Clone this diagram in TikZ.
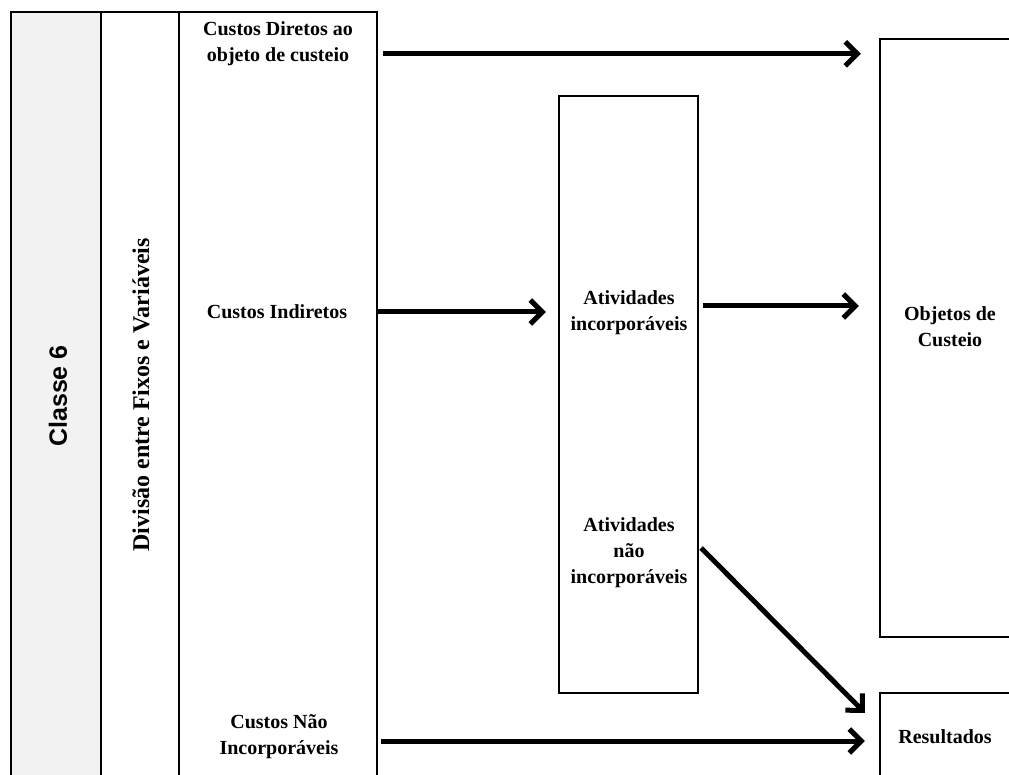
\documentclass[tikz,border=0pt]{standalone}
\usepackage{fontspec}
\setmainfont{Liberation Serif}
\newfontfamily\sansbold{Liberation Sans}
\usepackage{tikz}
\usetikzlibrary{arrows.meta, positioning}
\definecolor{classegray}{HTML}{F2F2F2}
\tikzset{
	block/.style={draw, line width=2.4pt, inner sep=0pt},
	txt/.style={font=\bfseries\fontsize{20}{26}\selectfont, align=center},
	flow/.style={-{Straight Barb[length=12pt, width=24pt]}, line width=5pt}
}

\begin{document}
\begin{tikzpicture}[x=1pt, y=-1pt]
		\path[use as bounding box, clip] (0,0) rectangle (1009,775);
		
		\node[block, fill=classegray, minimum width=90pt, minimum height=788pt] (classe) at (56,406) {};
		\node[rotate=90, font=\sansbold\bfseries\fontsize{25}{30}\selectfont] (classelbl) at (58,396) {Classe 6};
		
		\node[block, minimum width=78pt, minimum height=788pt] (divisao) at (140,406) {};
		\node[rotate=90, font=\bfseries\fontsize{24}{29}\selectfont] (divisaolbl) at (141,395) {Divisão entre Fixos e Variáveis};
		
		\node[block, minimum width=198pt, minimum height=788pt] (custos) at (278,406) {};
		\node[txt] (diretos) at (278,44) {Custos Diretos ao \\ objeto de custeio};
		\node[txt] (indiretos) at (277,312) {Custos Indiretos};
		\node[txt] (naoinc) at (279,737) {Custos Não \\ Incorporáveis};
		
		\node[block, minimum width=139pt, minimum height=597pt] (ativ) at (628.5,394.5) {};
		\node[txt] (ativinc) at (629,313) {Atividades \\ incorporáveis};
		\node[txt] (ativnao) at (629,553) {Atividades \\ não \\ incorporáveis};
		
		\node[block, minimum width=150pt, minimum height=598pt] (objetos) at (955,338) {};
		\node[txt] (objlbl) at (950,327) {Objetos de \\ Custeio};
		
		\node[block, minimum width=150pt, minimum height=107pt] (result) at (955,746.5) {};
		\node[txt] (reslbl) at (945,737) {Resultados};
		
		\draw[flow] ([shift={(5pt,-43pt)}]custos.north east) -- ([shift={(-18pt,-16pt)}]objetos.north west);
		\draw[flow] ([xshift=-2pt]indiretos -| custos.east) -- ([xshift=-12pt]indiretos -| ativ.west);
		\draw[flow] ([shift={(4pt,7pt)}]ativinc -| ativ.east) -- ([shift={(-20pt,7pt)}]ativinc -| objetos.west);
		\draw[flow] ([shift={(2pt,5pt)}]ativnao -| ativ.east) -- ([shift={(-14pt,-21pt)}]result.north west);
		\draw[flow] ([shift={(3pt,-4pt)}]naoinc -| custos.east) -- ([shift={(-14pt,-4pt)}]naoinc -| result.west);
	\end{tikzpicture}
\end{document}
